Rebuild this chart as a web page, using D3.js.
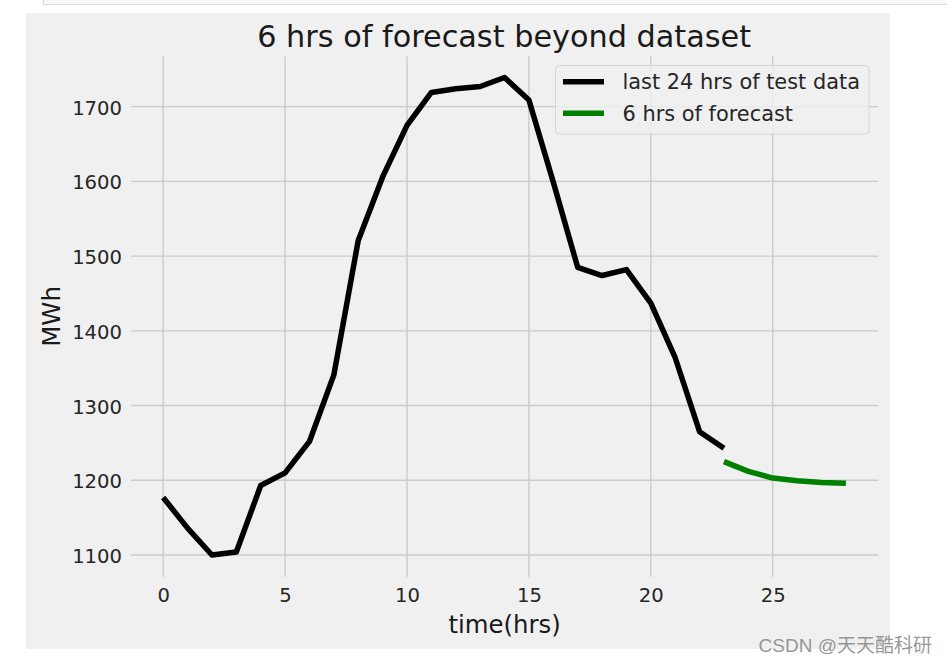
<!DOCTYPE html>
<html>
<head>
<meta charset="utf-8">
<script src="https://cdn.jsdelivr.net/npm/d3@7"></script>
<style>
  html, body { margin: 0; padding: 0; background: #ffffff; }
  svg { display: block; }
</style>
</head>
<body>
<svg id="chart" width="947" height="665"></svg>
<script>
// ---- data ----
const actualHours = d3.range(0, 24);
const actualValues = [1177, 1136, 1100, 1104, 1193, 1210, 1252, 1341, 1521, 1606,
                      1675, 1719, 1724, 1727, 1739, 1709, 1599, 1485, 1474, 1482,
                      1437, 1364, 1265, 1243];
const forecastHours = [23, 24, 25, 26, 27, 28];
const forecastValues = [1225, 1212, 1203, 1199.5, 1197, 1196];
const xTicks = [0, 5, 10, 15, 20, 25];
const yTicks = [1100, 1200, 1300, 1400, 1500, 1600, 1700];
const seriesNames = ["last 24 hrs of test data", "6 hrs of forecast"];
const seriesColors = ["#000000", "#008000"];
const titleText = "6 hrs of forecast beyond dataset";
const xLabelText = "time(hrs)";
const yLabelText = "MWh";
const watermark = "CSDN @天天酷科研";

// ---- layout ----
const svg = d3.select("#chart");
const font = "'DejaVu Sans', sans-serif";
const plot = { left: 131, right: 878.3, top: 56.2, bottom: 576.7 };

// top frame band (page chrome)
svg.append("rect").attr("x", 43.5).attr("y", -3).attr("width", 920).attr("height", 7.5)
  .attr("fill", "#f8f8f8").attr("stroke", "#d8d8d8").attr("stroke-width", 1);

// figure background
svg.append("rect").attr("x", 26).attr("y", 13).attr("width", 864).attr("height", 636)
  .attr("fill", "#f0f0f0");

const x = d3.scaleLinear().domain([-1.32, 29.33]).range([plot.left, plot.right]);
const y = d3.scaleLinear().domain([1071, 1767.5]).range([plot.bottom, plot.top]);

// grid
const grid = svg.append("g").attr("stroke", "#cbcbcb").attr("stroke-width", 1.4);
grid.selectAll(".vx").data(xTicks).join("line")
  .attr("x1", d => x(d)).attr("x2", d => x(d))
  .attr("y1", plot.top).attr("y2", plot.bottom);
grid.selectAll(".hy").data(yTicks).join("line")
  .attr("x1", plot.left).attr("x2", plot.right)
  .attr("y1", d => y(d)).attr("y2", d => y(d));

// axes (ticks length 0, no spines)
const xAxis = svg.append("g").attr("transform", `translate(0,${plot.bottom})`)
  .call(d3.axisBottom(x).tickValues(xTicks).tickSize(0).tickPadding(11).tickFormat(d3.format("d")));
xAxis.select(".domain").remove();
xAxis.selectAll("text").attr("font-family", font).attr("font-size", 19.6).attr("fill", "#262626");

const yAxis = svg.append("g").attr("transform", `translate(${plot.left},0)`)
  .call(d3.axisLeft(y).tickValues(yTicks).tickSize(0).tickPadding(9).tickFormat(d3.format("d")));
yAxis.select(".domain").remove();
yAxis.selectAll("text").attr("font-family", font).attr("font-size", 19.6).attr("fill", "#262626")
  .attr("dy", "0.38em");

// lines
const line = d3.line().x(d => x(d[0])).y(d => y(d[1]));
const actual = actualHours.map((h, i) => [h, actualValues[i]]);
const forecast = forecastHours.map((h, i) => [h, forecastValues[i]]);

svg.append("path").datum(actual).attr("d", line)
  .attr("fill", "none").attr("stroke", seriesColors[0]).attr("stroke-width", 5.5)
  .attr("stroke-linejoin", "round").attr("stroke-linecap", "butt");
svg.append("path").datum(forecast).attr("d", line)
  .attr("fill", "none").attr("stroke", seriesColors[1]).attr("stroke-width", 5.5)
  .attr("stroke-linejoin", "round").attr("stroke-linecap", "butt");

// title & labels
svg.append("text").attr("x", (plot.left + plot.right) / 2 - 0.5).attr("y", 47)
  .attr("text-anchor", "middle").attr("font-family", font).attr("font-size", 30.3)
  .attr("fill", "#1a1a1a").text(titleText);

svg.append("text").attr("x", (plot.left + plot.right) / 2).attr("y", 633)
  .attr("text-anchor", "middle").attr("font-family", font).attr("font-size", 24.4)
  .attr("fill", "#1a1a1a").text(xLabelText);

svg.append("text").attr("transform", `translate(59.5,${(plot.top + plot.bottom) / 2}) rotate(-90)`)
  .attr("text-anchor", "middle").attr("font-family", font).attr("font-size", 24.4)
  .attr("fill", "#1a1a1a").text(yLabelText);

// legend
const lg = svg.append("g");
lg.append("rect").attr("x", 555.5).attr("y", 65.5).attr("width", 313.5).attr("height", 68.5)
  .attr("rx", 4).attr("ry", 4)
  .attr("fill", "#f0f0f0").attr("fill-opacity", 0.8)
  .attr("stroke", "#d6d6d6").attr("stroke-width", 1);
const legendRows = seriesNames.map((n, i) => ({ name: n, color: seriesColors[i], cy: 81.7 + i * 31.6 }));
lg.selectAll("line.sw").data(legendRows).join("line")
  .attr("x1", 563).attr("x2", 604)
  .attr("y1", d => d.cy).attr("y2", d => d.cy)
  .attr("stroke", d => d.color).attr("stroke-width", 5.5);
lg.selectAll("text.lt").data(legendRows).join("text")
  .attr("x", 622.5).attr("y", d => d.cy + 7.5)
  .attr("font-family", font).attr("font-size", 20.9).attr("fill", "#262626")
  .text(d => d.name);

// watermark
svg.append("text").attr("x", 932).attr("y", 652).attr("text-anchor", "end")
  .attr("font-family", "'Liberation Sans', 'Noto Sans CJK SC', sans-serif").attr("font-size", 19)
  .attr("fill", "#8a8a8a").attr("fill-opacity", 0.9).text(watermark);
</script>
</body>
</html>
